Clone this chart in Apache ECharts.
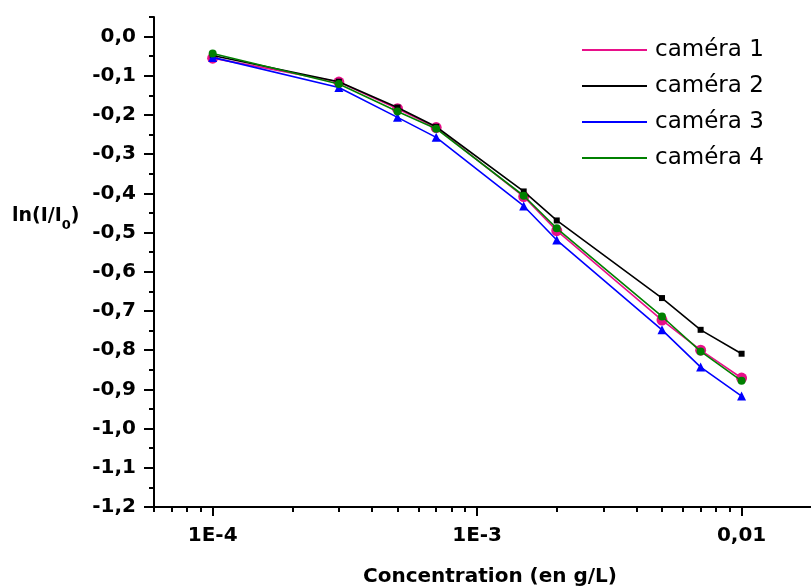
<!DOCTYPE html>
<html>
<head>
<meta charset="utf-8">
<script src="https://cdn.jsdelivr.net/npm/echarts@6/dist/echarts.min.js"></script>
<style>html,body{margin:0;padding:0;background:#fff}#c{width:811px;height:588px}</style>
</head>
<body>
<div id="c"></div>
<script>
// ---- data ----
var concentrations = [1e-4, 3e-4, 5e-4, 7e-4, 1.5e-3, 2e-3, 5e-3, 7e-3, 1e-2];
var camera1 = [-0.055, -0.116, -0.184, -0.232, -0.408, -0.495, -0.723, -0.800, -0.871];
var camera2 = [-0.048, -0.115, -0.181, -0.230, -0.395, -0.469, -0.667, -0.748, -0.809];
var camera3 = [-0.053, -0.130, -0.206, -0.257, -0.432, -0.519, -0.748, -0.843, -0.917];
var camera4 = [-0.043, -0.121, -0.191, -0.235, -0.406, -0.489, -0.714, -0.803, -0.878];
var seriesNames = ['caméra 1', 'caméra 2', 'caméra 3', 'caméra 4'];
var xMajorTicks = [1e-4, 1e-3, 1e-2];
var xMajorLabels = ['1E-4', '1E-3', '0,01'];
var xMinorTicks = [6e-5, 7e-5, 8e-5, 9e-5,
  2e-4, 3e-4, 4e-4, 5e-4, 6e-4, 7e-4, 8e-4, 9e-4,
  2e-3, 3e-3, 4e-3, 5e-3, 6e-3, 7e-3, 8e-3, 9e-3];
var yMajorTicks = [-1.2, -1.1, -1.0, -0.9, -0.8, -0.7, -0.6, -0.5, -0.4, -0.3, -0.2, -0.1, 0.0];
var yMinorTicks = [-1.15, -1.05, -0.95, -0.85, -0.75, -0.65, -0.55, -0.45, -0.35, -0.25, -0.15, -0.05, 0.05];

function pairs(ys) { return concentrations.map(function (x, i) { return [x, ys[i]]; }); }

var colors = ['#e8108a', '#000000', '#0000ff', '#008000'];
var symbols = ['circle', 'rect', 'triangle', 'circle'];
var sizes = [11, 6, 9, 8];
var datas = [camera1, camera2, camera3, camera4];

var fontB = 'DejaVu Sans';
var xMin = 6e-5, xMax = 0.0183;
var gridLeft = 154, gridTop = 17, gridBottom = 81, W = 811, H = 588;
var gridW = W - gridLeft, gridH = H - gridTop - gridBottom;

var chart = echarts.init(document.getElementById('c'), null, {renderer: 'canvas'});
var option = {
  animation: false,
  backgroundColor: '#ffffff',
  grid: {left: gridLeft, right: 0, top: gridTop, bottom: gridBottom, containLabel: false},
  legend: {
    left: 582, top: 37, orient: 'vertical', padding: 0,
    icon: 'rect', itemWidth: 65, itemHeight: 2, itemGap: 10,
    data: seriesNames,
    textStyle: {fontFamily: 'DejaVu Sans', fontSize: 23, color: '#000', lineHeight: 26, padding: [0, 0, 0, 3]}
  },
  xAxis: [{
    type: 'log', logBase: 10, min: xMin, max: xMax, position: 'bottom',
    axisLine: {show: true, onZero: false, lineStyle: {color: '#000', width: 2}},
    axisTick: {show: true, inside: false, length: 9, lineStyle: {color: '#000', width: 2}, customValues: xMajorTicks},
    axisLabel: {show: true, customValues: xMajorTicks, margin: 19, fontFamily: fontB, fontWeight: 'bold', fontSize: 20, color: '#000',
      formatter: function (v) {
        for (var i = 0; i < xMajorTicks.length; i++) { if (Math.abs(Math.log10(v) - Math.log10(xMajorTicks[i])) < 1e-6) return xMajorLabels[i]; }
        return '';
      }},
    splitLine: {show: false}
  }, {
    type: 'log', logBase: 10, min: xMin, max: xMax, position: 'top', offset: -gridH,
    axisLine: {show: false},
    axisTick: {show: true, inside: true, length: 5, lineStyle: {color: '#000', width: 2}, customValues: xMinorTicks},
    axisLabel: {show: false},
    splitLine: {show: false}
  }],
  yAxis: [{
    type: 'value', min: -1.2, max: 0.05, interval: 0.1, position: 'left',
    axisLine: {show: true, onZero: false, lineStyle: {color: '#000', width: 2}},
    axisTick: {show: true, inside: false, length: 10, lineStyle: {color: '#000', width: 2}, customValues: yMajorTicks},
    axisLabel: {show: true, customValues: yMajorTicks, margin: 18, fontFamily: fontB, fontWeight: 'bold', fontSize: 20, color: '#000',
      formatter: function (v) { return (Math.abs(v) < 1e-9 ? 0 : v).toFixed(1).replace('.', ','); }},
    splitLine: {show: false}
  }, {
    type: 'value', min: -1.2, max: 0.05, interval: 0.1, position: 'right', offset: -gridW,
    axisLine: {show: false},
    axisTick: {show: true, inside: true, length: 5, lineStyle: {color: '#000', width: 2}, customValues: yMinorTicks},
    axisLabel: {show: false},
    splitLine: {show: false}
  }],
  series: seriesNames.map(function (n, i) {
    return {
      name: n, type: 'line', xAxisIndex: 0, yAxisIndex: 0,
      data: pairs(datas[i]),
      symbol: symbols[i], symbolSize: sizes[i], showSymbol: true,
      lineStyle: {color: colors[i], width: 1.6},
      itemStyle: {color: colors[i]},
      z: 2 + i
    };
  }),
  graphic: [{
    type: 'text', left: 12, top: 207,
    style: {
      text: '{a|ln(I/I}{b|0}{a|)}',
      rich: {
        a: {fontFamily: fontB, fontWeight: 'bold', fontSize: 19, fill: '#000', verticalAlign: 'bottom'},
        b: {fontFamily: fontB, fontWeight: 'bold', fontSize: 13, fill: '#000', verticalAlign: 'bottom', padding: [0, 0, -6, 0]}
      }
    }
  }, {
    type: 'text', x: 490, y: 577,
    style: {text: 'Concentration (en g/L)', fontFamily: fontB, fontWeight: 'bold', fontSize: 20, fill: '#000', align: 'center', verticalAlign: 'middle'}
  }]
};
chart.setOption(option);
</script>
</body>
</html>
